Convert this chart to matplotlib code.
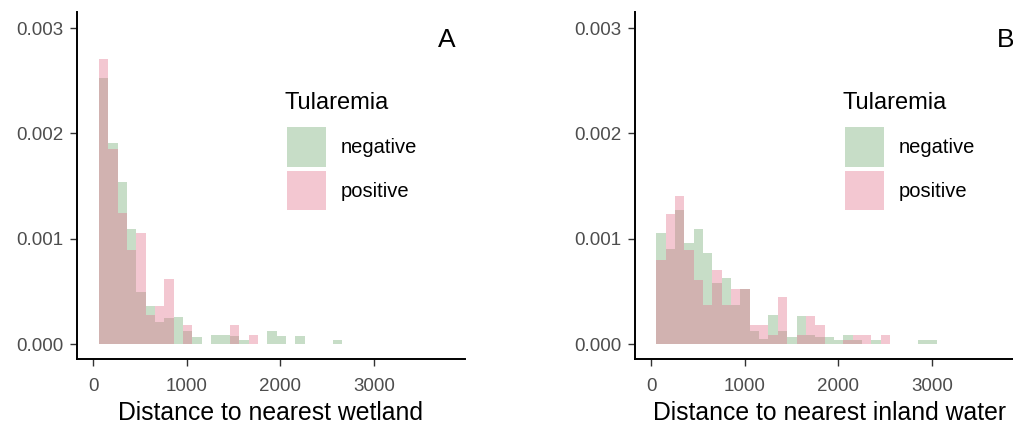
import numpy as np
import matplotlib
matplotlib.use("Agg")
import matplotlib.pyplot as plt
from matplotlib.patches import Patch

plt.rcParams["font.family"] = ["Liberation Sans", "DejaVu Sans"]

# ---------- Dados (densidade por classe de 100 m) ----------
bin_width = 100
bin_start_a = 60
bin_start_b = 53

wetland_negative = [2.53, 1.91, 1.535, 1.09, 0.49, 0.36, 0.21, 0.25, 0.255, 0.125,
                    0.07, 0, 0.085, 0.085, 0.08, 0.04, 0, 0, 0.125, 0.075,
                    0, 0.075, 0, 0, 0, 0.035]
wetland_positive = [2.71, 1.85, 1.24, 0.89, 1.05, 0.275, 0.36, 0.615, 0, 0.18,
                    0, 0, 0, 0, 0.18, 0, 0.085, 0, 0, 0,
                    0, 0, 0, 0, 0, 0]

inland_negative = [1.05, 0.90, 1.27, 0.96, 1.09, 0.86, 0.575, 0.63, 0.37, 0.52,
                   0.125, 0.045, 0.275, 0.12, 0.065, 0.27, 0.09, 0.07, 0.07, 0.035,
                   0.09, 0.04, 0, 0.04, 0, 0, 0, 0, 0.035, 0.035]
inland_positive = [0.80, 1.235, 1.41, 0.89, 0.61, 0.37, 0.70, 0.37, 0.52, 0.52,
                   0.18, 0.18, 0.085, 0.45, 0, 0.085, 0.265, 0.18, 0, 0,
                   0.04, 0.09, 0.09, 0, 0.09, 0, 0, 0, 0, 0]

groups = ["negative", "positive"]
legend_title = "Tularemia"
x_ticks = [0, 1000, 2000, 3000]
y_ticks = [0.0, 0.001, 0.002, 0.003]

# ---------- Estilo ----------
GREEN = "#73ac75"
PINK = "#e1738e"
ALPHA = 0.4
TICK_GREY = "#4d4d4d"

W, H = 1013, 425


def _panel(rect, neg, pos, start, xlabel, tag):
    ax = fig.add_axes(rect)
    for vals, col in ((neg, GREEN), (pos, PINK)):
        v = np.asarray(vals) * 1e-3
        edges = start + bin_width * np.arange(len(v))
        m = v > 0
        ax.bar(edges[m], v[m], width=bin_width, align="edge",
               color=col, alpha=ALPHA, linewidth=0)
    ax.set_xlim(-174, 3975)
    ax.set_ylim(-0.000142, 0.003153)
    ax.set_xticks(x_ticks)
    ax.set_yticks(y_ticks)
    ax.set_yticklabels([f"{t:.3f}" for t in y_ticks])
    for s in ("top", "right"):
        ax.spines[s].set_visible(False)
    for s in ("left", "bottom"):
        ax.spines[s].set_linewidth(1.4)
        ax.spines[s].set_color("black")
    ax.tick_params(length=5, width=1.0, color="#333333", labelsize=13.5,
                   labelcolor=TICK_GREY, pad=5)
    ax.tick_params(axis="x", pad=9)
    ax.set_xlabel(xlabel, fontsize=17.8, color="black", labelpad=4)
    ax.text(0.954, 0.918, tag, transform=ax.transAxes, fontsize=19,
            ha="center", va="center", color="black")

    # legenda: título à parte para controlar o espaçamento
    ax.text(0.536, 0.738, legend_title, transform=ax.transAxes, fontsize=17,
            ha="left", va="center", color="black")
    handles = [Patch(facecolor=GREEN, alpha=ALPHA, linewidth=0),
               Patch(facecolor=PINK, alpha=ALPHA, linewidth=0)]
    ax.legend(handles, groups, loc="upper left",
              bbox_to_anchor=(0.5405, 0.6686), frameon=False,
              fontsize=14.5, borderpad=0,
              handlelength=1.95, handleheight=2.65, handletextpad=0.72,
              labelspacing=0.2, borderaxespad=0)
    return ax


fig = plt.figure(figsize=(W / 100, H / 100), dpi=100)
bottom = (H - 359) / H
height = (359 - 12) / H
_panel([77 / W, bottom, 388 / W, height], wetland_negative, wetland_positive,
       bin_start_a, "Distance to nearest wetland", "A")
_panel([635 / W, bottom, 388 / W, height], inland_negative, inland_positive,
       bin_start_b, "Distance to nearest inland water", "B")

fig.savefig("out.png", dpi=100)
